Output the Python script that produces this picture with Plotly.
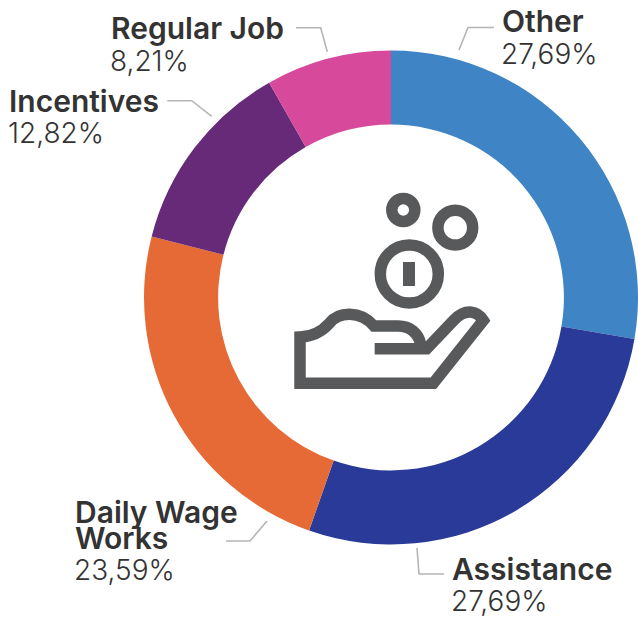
import plotly.graph_objects as go

W, H = 638, 617

categories = ["Other", "Assistance", "Daily Wage Works", "Incentives", "Regular Job"]
values = [27.69, 27.69, 23.59, 12.82, 8.21]
value_labels = ["27,69%", "27,69%", "23,59%", "12,82%", "8,21%"]
colors = ["#3F85C6", "#2A3A98", "#E66A35", "#662A79", "#D6499B"]

FONT = "Inter"
TEXT = "#333333"
GREY = "#B5B5B2"
ICON = "#58595B"


def px(x):
    return x / W


def py(y):
    return 1 - y / H


def zpath(cmds):
    out = []
    for c in cmds:
        nums = c[1:]
        pts = []
        for i in range(0, len(nums), 2):
            X = 270 + nums[i] / 3
            Y = 170 + nums[i + 1] / 3
            pts.append(f"{px(X):.5f},{py(Y):.5f}")
        out.append(c[0] + " " + " ".join(pts))
    return " ".join(out)


def polyline(points):
    return "M " + " L ".join(f"{px(x):.5f},{py(y):.5f}" for x, y in points)


shapes = []

# leader lines
leaders = [
    [(296, 27.7), (320.7, 27.7), (327.3, 51.7)],
    [(167.3, 100.7), (191.7, 100.7), (211.7, 116.3)],
    [(459, 50), (468, 27.5), (494, 27.5)],
    [(226, 541), (250, 541), (267, 521)],
    [(417, 548), (419, 574), (444, 574)],
]
for pts in leaders:
    shapes.append(dict(type="path", xref="paper", yref="paper", path=polyline(pts),
                       line=dict(color=GREY, width=1.6)))

# icon: coins
for cx, cy, r in [(403.3, 210, 11.5), (455.3, 227.7, 17.4), (409.3, 274, 29)]:
    shapes.append(dict(type="circle", xref="paper", yref="paper",
                       x0=px(cx - r), x1=px(cx + r), y0=py(cy + r), y1=py(cy - r),
                       line=dict(color=ICON, width=11.5), fillcolor="rgba(0,0,0,0)"))
shapes.append(dict(type="rect", xref="paper", yref="paper",
                   x0=px(403), x1=px(415), y0=py(286), y1=py(262),
                   line=dict(width=0), fillcolor=ICON))

# icon: hand
hand = zpath([
    ("M", 314, 536),
    ("L", 470, 536),
    ("L", 552, 450),
    ("C", 585, 415, 620, 420, 640, 451),
    ("L", 490, 640),
    ("L", 90, 640),
    ("L", 90, 501),
    ("C", 130, 500, 155, 485, 178, 460),
    ("C", 205, 425, 270, 420, 312, 468),
    ("L", 385, 468),
    ("C", 420, 468, 445, 490, 452, 522),
])
shapes.append(dict(type="path", xref="paper", yref="paper", path=hand,
                   line=dict(color=ICON, width=11.5), fillcolor="rgba(0,0,0,0)"))

# label layout: category rows (bold) then value row (light)
label_rows = [
    (["Other"], 502, [21], 502, 54, value_labels[0]),
    (["Assistance"], 452, [569], 452, 601, value_labels[1]),
    (["Daily Wage", "Works"], 75, [512, 538], 75, 570, value_labels[2]),
    (["Incentives"], 9, [101], 9, 133, value_labels[3]),
    (["Regular Job"], 111, [28], 111, 61, value_labels[4]),
]
annotations = []
for names, nx, nys, vx, vy, val in label_rows:
    for name, ny in zip(names, nys):
        annotations.append(dict(x=px(nx), y=py(ny), xref="paper", yref="paper",
                                text=name, showarrow=False, xanchor="left", yanchor="middle",
                                xshift=-2,
                                font=dict(family=FONT, size=30, color=TEXT, weight=600)))
    annotations.append(dict(x=px(vx), y=py(vy), xref="paper", yref="paper",
                            text=val, showarrow=False, xanchor="left", yanchor="middle",
                            xshift=-3,
                            font=dict(family=FONT, size=28, color=TEXT, weight=300)))

fig = go.Figure(go.Pie(
    labels=categories,
    values=values,
    marker=dict(colors=colors, line=dict(width=0)),
    hole=0.70,
    sort=False,
    direction="clockwise",
    rotation=0,
    textinfo="none",
    showlegend=False,
    domain=dict(x=[144 / W, 638 / W], y=[1 - 545 / H, 1 - 50 / H]),
))
fig.update_layout(
    width=W, height=H,
    margin=dict(l=0, r=0, t=0, b=0),
    paper_bgcolor="white",
    shapes=shapes,
    annotations=annotations,
)
fig.write_html("out.html", config=dict(displayModeBar=False),
               post_script="document.body.style.margin='0';")
